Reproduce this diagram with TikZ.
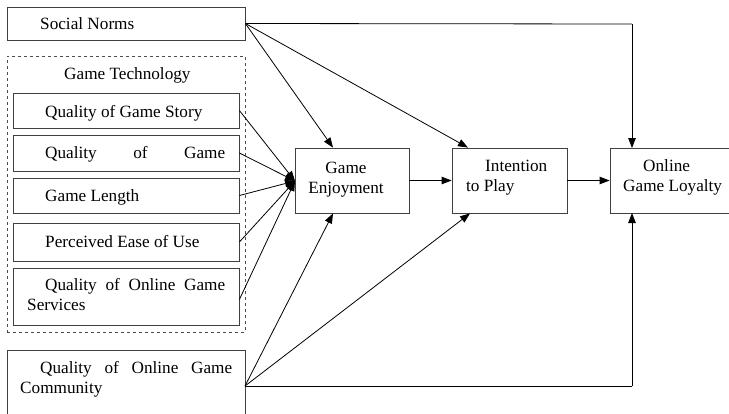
\documentclass[tikz,border=0pt]{standalone}
\usepackage{fontspec}
\setmainfont{Liberation Serif}
\usetikzlibrary{arrows.meta}
\begin{document}
\begin{tikzpicture}[x=1pt,y=-1pt,
  box/.style={draw=black!75,line width=0.8pt,inner sep=0pt,rectangle},
  txt/.style={inner sep=0pt,anchor=mid west,yshift=-3pt,font=\fontsize{17.2}{20}\selectfont},
  ctxt/.style={inner sep=0pt,align=center,yshift=-3pt,font=\fontsize{17.2}{20}\selectfont},
  arr/.style={line width=0.8pt,-{Triangle[length=10pt,width=7.5pt]}},
  ln/.style={line width=0.8pt}]
\useasboundingbox (0,0) rectangle (729,413);
% left boxes
\node[box,minimum width=238pt,minimum height=33pt] (sn) at (126,23.5) {};
\node[draw=black!70,dashed,line width=0.7pt,inner sep=0pt,minimum width=238pt,minimum height=276pt] (gt) at (126,194) {};
\node[box,minimum width=226pt,minimum height=35pt] (qs) at (126,110.5) {};
\node[box,minimum width=226pt,minimum height=36pt] (qg) at (126,153) {};
\node[box,minimum width=226pt,minimum height=35pt] (gl) at (126,195.5) {};
\node[box,minimum width=226pt,minimum height=38pt] (pe) at (126,242) {};
\node[box,minimum width=226pt,minimum height=57pt] (qo) at (126,296.5) {};
\node[box,minimum width=238pt,minimum height=74pt] (qc) at (126,387) {};
% right boxes
\node[box,minimum width=114pt,minimum height=65pt] (ge) at (352,180.5) {};
\node[box,minimum width=115pt,minimum height=65pt] (ip) at (509.5,180.5) {};
\node[box,minimum width=130pt,minimum height=65pt] (ol) at (675,180.5) {};
% texts
\node[txt] (tsn) at (40,24) {Social Norms};
\node[txt] (tgt) at (64,74) {Game Technology};
\node[txt] (tqs) at (45,112) {Quality of Game Story};
\node[txt] (tqg) at (45,153) {\makebox[180pt][s]{Quality of Game}};
\node[txt] (tgl) at (45,196) {Game Length};
\node[txt] (tpe) at (45,242) {Perceived Ease of Use};
\node[txt] (tqo1) at (45,285) {\makebox[180pt][s]{Quality of Online Game}};
\node[txt] (tqo2) at (27,305) {Services};
\node[txt] (tqc1) at (40,368) {\makebox[192pt][s]{Quality of Online Game}};
\node[txt] (tqc2) at (20,388) {Community};
\node[ctxt] (tge) at (346,177) {Game\\Enjoyment};
\node[txt] (tip1) at (485,166) {Intention};
\node[txt] (tip2) at (466,186) {to Play};
\node[txt] (tol1) at (643,166) {Online};
\node[txt] (tol2) at (623,186) {Game Loyalty};
% converging point
\coordinate (fan) at (295,181);
\draw[arr] (qs.east) -- (fan);
\draw[arr] (qg.east) -- (fan);
\draw[arr] (gl.east) -- (fan);
\draw[arr] (pe.east) -- (fan);
\draw[arr] ([yshift=-3pt]qo.east) -- (fan);
% chain
\draw[arr] (ge.east) -- (ip.west);
\draw[arr] (ip.east) -- (ol.west);
% social norms
\draw[arr] (sn.east) -- ([xshift=-19pt]ge.north);
\draw[arr] (sn.east) -- ([xshift=-41.5pt]ip.north);
\draw[ln] (sn.east) -- (632,24);
\draw[arr] (632,24) -- (632,148);
% community
\coordinate (qcp) at (245,386);
\draw[arr] (qcp) -- ([xshift=-19pt]ge.south);
\draw[arr] (qcp) -- ([xshift=-39.5pt]ip.south);
\draw[ln] (qcp) -- (632,386);
\draw[arr] (632,386) -- (632,213);
\end{tikzpicture}
\end{document}
